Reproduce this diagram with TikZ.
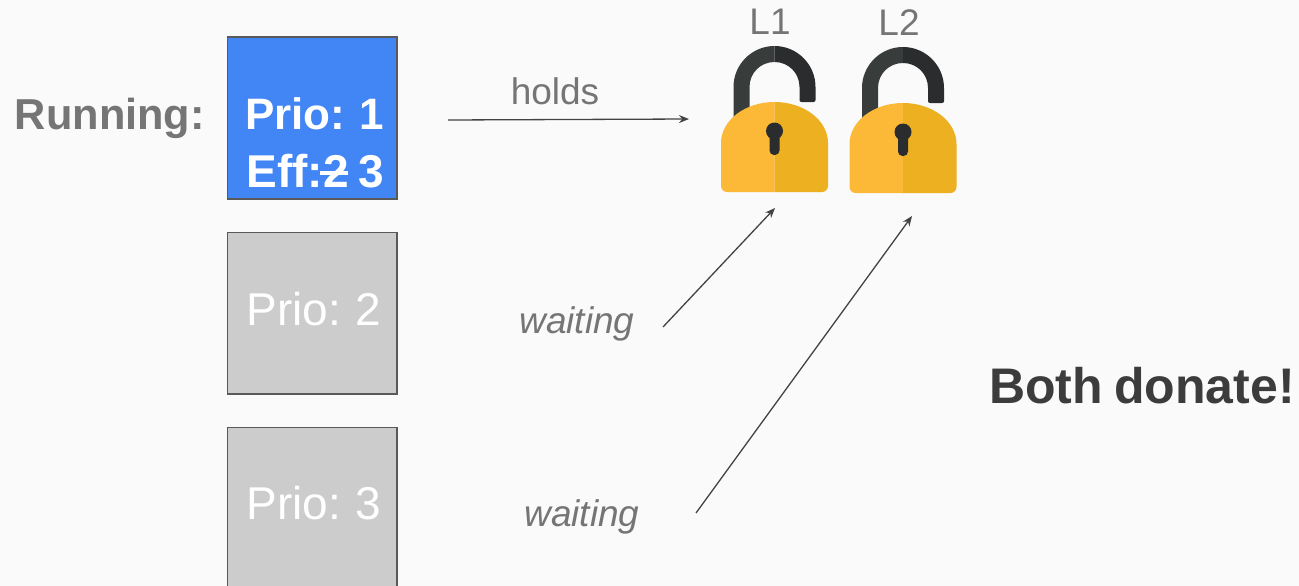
\documentclass[tikz,border=0pt]{standalone}
\usepackage{fontspec}
\setmainfont[WordSpace=0.8]{Liberation Sans}
\usetikzlibrary{arrows.meta}
\definecolor{bg}{HTML}{FAFAFA}
\definecolor{blueb}{HTML}{4285F4}
\definecolor{grayb}{HTML}{CCCCCC}
\definecolor{edgeb}{HTML}{595959}
\definecolor{txtg}{HTML}{757575}
\definecolor{txtd}{HTML}{3C3C3C}
\definecolor{lineb}{HTML}{434343}
\definecolor{lockl}{HTML}{FBB937}
\definecolor{lockr}{HTML}{EDB021}
\definecolor{shl}{HTML}{383C3B}
\definecolor{shr}{HTML}{2B2C2E}
\tikzset{
  x=1pt,y=-1pt,
  prio/.style={draw=edgeb,line width=1.5pt,minimum width=169.5pt,minimum height=161.5pt,inner sep=0pt,anchor=north west},
  boxtext/.style={text=white,font=\fontsize{46}{46}\selectfont,anchor=center,inner sep=0pt},
  boxbold/.style={boxtext,font=\fontsize{44}{44}\selectfont\bfseries},
  lab/.style={text=txtg,font=\fontsize{37}{37}\selectfont,inner sep=0pt},
  labit/.style={lab,font=\fontsize{37}{37}\selectfont\itshape},
  link/.style={draw=lineb,line width=1.3pt,-{Stealth[length=10pt,width=8pt]}},
  padlock/.pic={
    % shackle, left half runs down behind the body
    \fill[shl] (-41,30) -- (-41,-15) .. controls (-41,-37.6) and (-22.6,-56) .. (0,-56)
      -- (0,-40) .. controls (-14,-40) and (-25,-29) .. (-25,-15) -- (-25,30) -- cycle;
    % shackle, right half
    \fill[shr] (0,-56) .. controls (22.6,-56) and (41,-37.6) .. (41,-15) -- (41,-2)
      .. controls (41,-0.7) and (40.3,0) .. (39,0) -- (27,0) .. controls (25.7,0) and (25,-0.7) .. (25,-2)
      -- (25,-15) .. controls (25,-29) and (14,-40) .. (0,-40) -- cycle;
    % body
    \fill[lockl] (0,0) .. controls (-29.5,0) and (-53.5,18.4) .. (-53.5,41) -- (-53.5,84)
      .. controls (-53.5,87.5) and (-50.5,90) .. (-47.5,90) -- (0,90) -- cycle;
    \fill[lockr] (0,0) .. controls (29.5,0) and (53.5,18.4) .. (53.5,41) -- (53.5,84)
      .. controls (53.5,87.5) and (50.5,90) .. (47.5,90) -- (0,90) -- cycle;
    % keyhole
    \fill[shr] (0,29) circle[radius=8.5];
    \fill[shr,rounded corners=4.5pt] (-5,30) rectangle (5,53);
  },
}
\begin{document}
\begin{tikzpicture}
\useasboundingbox (0,0) rectangle (1299,586);
\fill[bg] (0,0) rectangle (1299,586);
% boxes
\begin{scope}
\clip (0,0) rectangle (1299,586);
\node[prio,fill=blueb] (p1) at (226.5,36.5) {};
\node[prio,fill=grayb] (p2) at (226.5,231.5) {};
\node[prio,fill=grayb] (p3) at (226.5,426.5) {};
\end{scope}
\node[boxbold] (t1) at (314.5,114) {Prio: 1};
\node[boxbold,font=\fontsize{46}{46}\selectfont\bfseries] (t2) at (315.5,171) {Eff:2 3};
\node[boxtext] (t3) at (314,309) {Prio: 2};
\node[boxtext] (t4) at (314,503) {Prio: 3};
\coordinate (sa) at (320,173);
\coordinate (sb) at (348,173);
\draw[white,line width=3.5pt] (sa) -- (sb);
\node[anchor=east,inner sep=0pt,text=txtg,font=\fontsize{43.3}{44}\selectfont\bfseries] (run) at (205,118) {Running:};
% locks
\pic at (774.5,102) {padlock};
\pic at (903,103) {padlock};
\node[lab] (l1) at (770,22) {L1};
\node[lab] (l2) at (899,23) {L2};
\coordinate (lk1) at (689,119);
\coordinate (lk2) at (775,208);
\coordinate (lk3) at (912,216);
\coordinate (s1) at (448,120);
\coordinate (s2) at (663,327);
\coordinate (s3) at (696,513);
\node[lab] (holds) at (555,91) {holds};
\node[labit] (w1) at (577,324) {waiting};
\node[labit] (w2) at (582,517) {waiting};
\draw[link] (s1) -- (lk1);
\draw[link] (s2) -- (lk2);
\draw[link] (s3) -- (lk3);
\node[anchor=west,inner sep=0pt,text=txtd,font=\fontsize{50}{50}\selectfont\bfseries] (both) at (989,386) {Both donate!};
\end{tikzpicture}
\end{document}
